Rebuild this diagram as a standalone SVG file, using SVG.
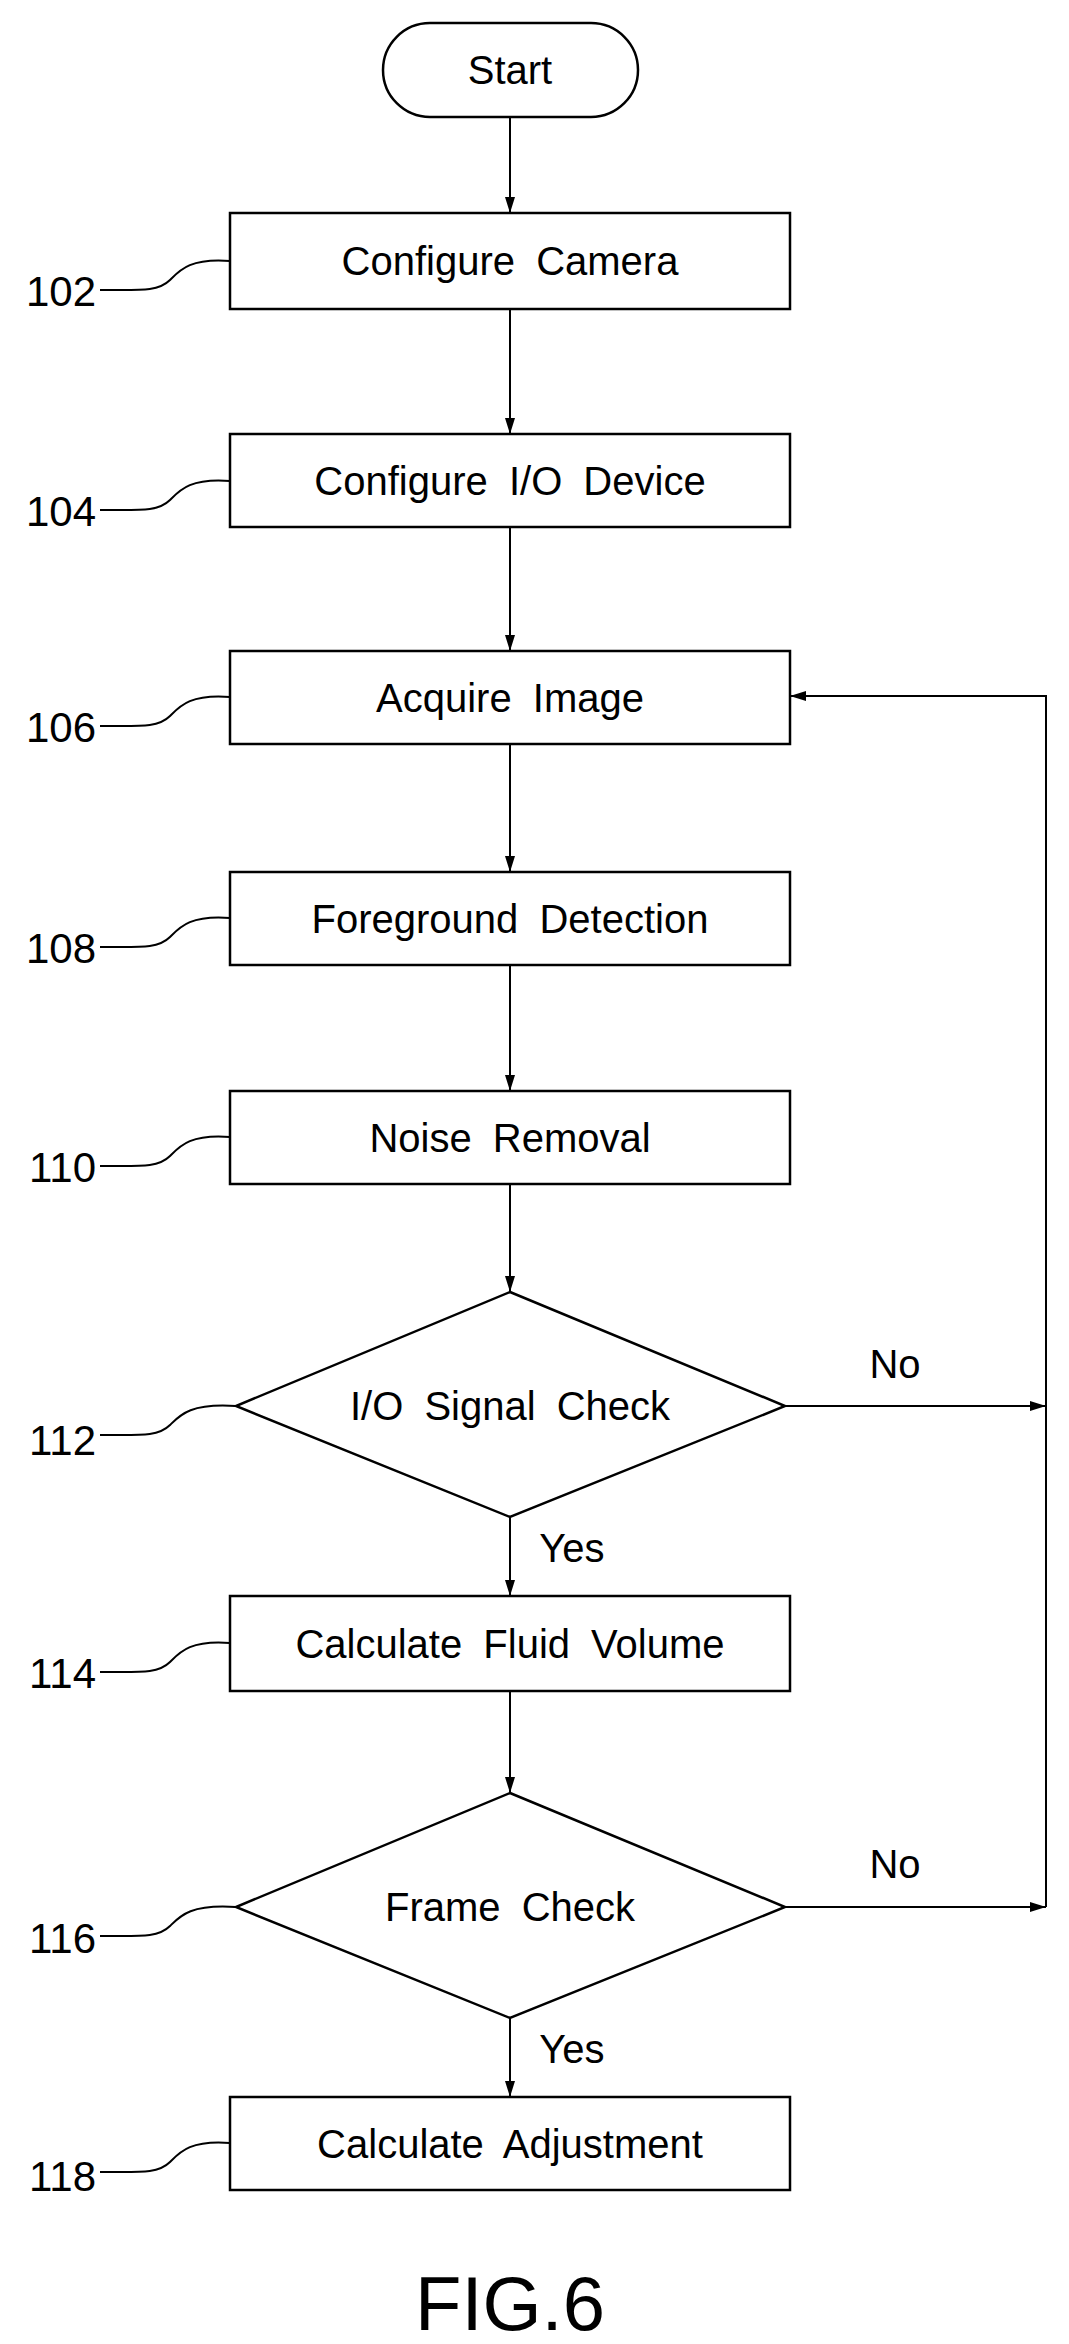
<svg xmlns="http://www.w3.org/2000/svg" width="1069" height="2344" viewBox="0 0 1069 2344">
<style>
.s{fill:#fff;stroke:#000;stroke-width:2.5}
.t{font-family:"Liberation Sans",Arial,sans-serif;font-size:40px;text-anchor:middle;word-spacing:10px}
.n{font-family:"Liberation Sans",Arial,sans-serif;font-size:42px;text-anchor:end}
.c{fill:none;stroke:#000;stroke-width:2}
</style>
<defs><marker id="a" markerWidth="16" markerHeight="12" refX="16" refY="6" orient="auto" markerUnits="userSpaceOnUse"><path d="M0,1 L16,6 L0,11 Z" fill="#000"/></marker></defs>
<rect width="1069" height="2344" fill="#fff"/>
<g id="connectors" class="c">
<line x1="510" y1="117" x2="510" y2="213" marker-end="url(#a)"/>
<line x1="510" y1="309" x2="510" y2="434" marker-end="url(#a)"/>
<line x1="510" y1="527" x2="510" y2="651" marker-end="url(#a)"/>
<line x1="510" y1="744" x2="510" y2="872" marker-end="url(#a)"/>
<line x1="510" y1="965" x2="510" y2="1091" marker-end="url(#a)"/>
<line x1="510" y1="1184" x2="510" y2="1292" marker-end="url(#a)"/>
<line x1="510" y1="1517" x2="510" y2="1596" marker-end="url(#a)"/>
<line x1="510" y1="1691" x2="510" y2="1793" marker-end="url(#a)"/>
<line x1="510" y1="2018" x2="510" y2="2097" marker-end="url(#a)"/>
<line x1="785" y1="1406" x2="1046" y2="1406" marker-end="url(#a)"/>
<line x1="785" y1="1907" x2="1046" y2="1907" marker-end="url(#a)"/>
<polyline points="1046,1907 1046,696 790,696" marker-end="url(#a)"/>
<path d="M230,261 C190,258 180,270 170,280 C158,292 140,290 100,290"/>
<path d="M230,481 C190,478 180,490 170,500 C158,512 140,510 100,510"/>
<path d="M230,697 C190,694 180,706 170,716 C158,728 140,726 100,726"/>
<path d="M230,918 C190,915 180,927 170,937 C158,949 140,947 100,947"/>
<path d="M230,1137 C190,1134 180,1146 170,1156 C158,1168 140,1166 100,1166"/>
<path d="M236,1406 C190,1403 180,1415 170,1425 C158,1437 140,1435 100,1435"/>
<path d="M230,1643 C190,1640 180,1652 170,1662 C158,1674 140,1672 100,1672"/>
<path d="M236,1907 C190,1904 180,1916 170,1926 C158,1938 140,1936 100,1936"/>
<path d="M230,2143 C190,2140 180,2152 170,2162 C158,2174 140,2172 100,2172"/>
</g>
<g id="start"><rect class="s" x="383" y="23" width="255" height="94" rx="47"/><text class="t" x="510" y="84">Start</text></g>
<g id="n102"><rect class="s" x="230" y="213" width="560" height="96"/><text class="t" x="510" y="275">Configure Camera</text><text class="n" x="96" y="306">102</text></g>
<g id="n104"><rect class="s" x="230" y="434" width="560" height="93"/><text class="t" x="510" y="495">Configure I/O Device</text><text class="n" x="96" y="526">104</text></g>
<g id="n106"><rect class="s" x="230" y="651" width="560" height="93"/><text class="t" x="510" y="712">Acquire Image</text><text class="n" x="96" y="742">106</text></g>
<g id="n108"><rect class="s" x="230" y="872" width="560" height="93"/><text class="t" x="510" y="933">Foreground Detection</text><text class="n" x="96" y="963">108</text></g>
<g id="n110"><rect class="s" x="230" y="1091" width="560" height="93"/><text class="t" x="510" y="1152">Noise Removal</text><text class="n" x="96" y="1182">110</text></g>
<g id="n112"><polygon class="s" points="510,1292 785,1406 510,1517 236,1406"/><text class="t" x="510" y="1420">I/O Signal Check</text><text class="n" x="96" y="1455">112</text><text class="t" x="895" y="1378">No</text><text class="t" x="572" y="1562">Yes</text></g>
<g id="n114"><rect class="s" x="230" y="1596" width="560" height="95"/><text class="t" x="510" y="1658">Calculate Fluid Volume</text><text class="n" x="96" y="1688">114</text></g>
<g id="n116"><polygon class="s" points="510,1793 785,1907 510,2018 236,1907"/><text class="t" x="510" y="1921">Frame Check</text><text class="n" x="96" y="1953">116</text><text class="t" x="895" y="1878">No</text><text class="t" x="572" y="2063">Yes</text></g>
<g id="n118"><rect class="s" x="230" y="2097" width="560" height="93"/><text class="t" x="510" y="2158">Calculate Adjustment</text><text class="n" x="96" y="2191">118</text></g>
<text x="510" y="2330" font-family="Liberation Sans,Arial,sans-serif" font-size="76" text-anchor="middle">FIG.6</text>
</svg>
